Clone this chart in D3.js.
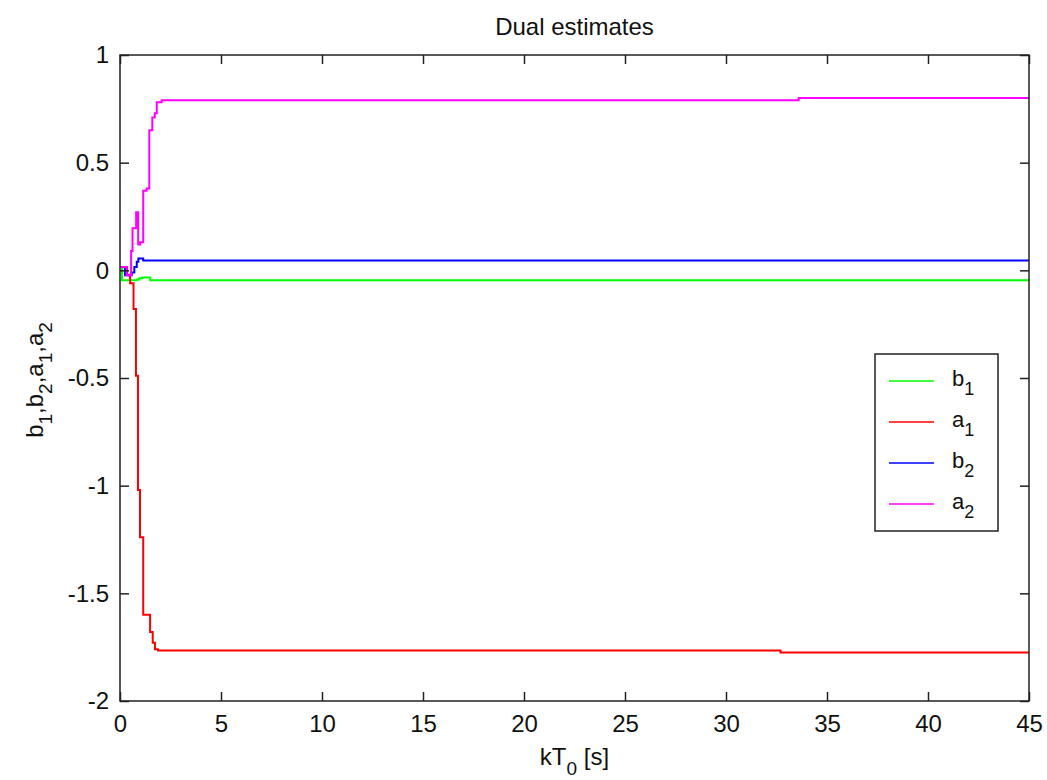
<!DOCTYPE html>
<html>
<head>
<meta charset="utf-8">
<script src="https://cdn.jsdelivr.net/npm/d3@7"></script>
<style>
  body { margin: 0; background: #fff; }
  svg text { font-family: "Liberation Sans", Arial, sans-serif; fill: #111; }
</style>
</head>
<body>
<div class="chartDiv"></div>
<script>
"use strict";

// Data: [time in s, estimate], drawn as steps
var b1Pts = [[0, 0.015], [0.1, -0.046], [0.83, -0.042], [0.95, -0.037], [1.1, -0.033], [1.5, -0.046], [45, -0.046]];
var a1Pts = [[0, 0.015], [0.35, -0.02], [0.5, -0.06], [0.67, -0.18], [0.79, -0.49], [0.89, -1.02], [0.99, -1.24],
             [1.15, -1.60], [1.49, -1.68], [1.62, -1.73], [1.73, -1.76], [1.88, -1.765], [32.7, -1.775], [45, -1.775]];
var b2Pts = [[0, 0.015], [0.25, -0.023], [0.58, -0.01], [0.71, 0.015], [0.83, 0.04], [0.91, 0.055], [1.15, 0.046], [45, 0.046]];
var a2Pts = [[0, 0.015], [0.33, -0.023], [0.55, 0.09], [0.62, 0.195], [0.8, 0.27], [0.9, 0.12], [1.0, 0.13],
             [1.15, 0.37], [1.32, 0.38], [1.45, 0.65], [1.6, 0.71], [1.72, 0.73], [1.82, 0.78], [2.06, 0.79],
             [33.6, 0.80], [45, 0.80]];

var seriesNames = ["b", "a", "b", "a"];
var seriesSubs = ["1", "1", "2", "2"];
var seriesColors = ["#00ff00", "#ff0000", "#0000ff", "#ff00ff"];
var seriesData = [b1Pts, a1Pts, b2Pts, a2Pts];

var xTicks = [0, 5, 10, 15, 20, 25, 30, 35, 40, 45];
var yTicks = [1, 0.5, 0, -0.5, -1, -1.5, -2];

// Layout
var width = 1047, height = 780;
var margin = { top: 55, right: 18, bottom: 79, left: 120 };
var plotW = width - margin.left - margin.right;
var plotH = height - margin.top - margin.bottom;
var tickLen = 9;
var fontSize = 24;

var svg = d3.select(".chartDiv").append("svg")
    .attr("width", width)
    .attr("height", height);

var g = svg.append("g")
    .attr("transform", "translate(" + margin.left + "," + margin.top + ")");

var x = d3.scaleLinear().domain([0, 45]).range([0, plotW]);
var y = d3.scaleLinear().domain([-2, 1]).range([plotH, 0]);

// Lines
var line = d3.line()
    .x(function(d) { return x(d[0]); })
    .y(function(d) { return y(d[1]); })
    .curve(d3.curveStepAfter);

g.append("g").attr("class", "lines")
    .selectAll("path")
    .data(seriesData).enter()
    .append("path")
    .attr("d", line)
    .attr("fill", "none")
    .attr("stroke", function(d, i) { return seriesColors[i]; })
    .attr("stroke-width", 2);

// Axes (ticks point inward on all four sides)
var fmt = function(d) { return String(d); };

var xAxis = g.append("g")
    .attr("transform", "translate(0," + plotH + ")")
    .call(d3.axisBottom(x).tickValues(xTicks).tickFormat(fmt).tickSizeInner(-tickLen).tickSizeOuter(0).tickPadding(14));
var xTop = g.append("g")
    .call(d3.axisTop(x).tickValues(xTicks).tickFormat("").tickSizeInner(-tickLen).tickSizeOuter(0));
var yAxis = g.append("g")
    .call(d3.axisLeft(y).tickValues(yTicks).tickFormat(fmt).tickSizeInner(-tickLen).tickSizeOuter(0).tickPadding(11));
var yRight = g.append("g")
    .attr("transform", "translate(" + plotW + ",0)")
    .call(d3.axisRight(y).tickValues(yTicks).tickFormat("").tickSizeInner(-tickLen).tickSizeOuter(0));

[xAxis, xTop, yAxis, yRight].forEach(function(a) {
    a.select(".domain").remove();
    a.selectAll(".tick line").attr("stroke", "#222").attr("stroke-width", 1.5);
    a.selectAll("text").attr("font-size", fontSize).attr("fill", "#111")
        .attr("font-family", "'Liberation Sans', Arial, sans-serif");
});

g.append("rect")
    .attr("width", plotW)
    .attr("height", plotH)
    .attr("fill", "none")
    .attr("stroke", "#222")
    .attr("stroke-width", 1.5);

// Title
svg.append("text")
    .attr("x", margin.left + plotW / 2)
    .attr("y", 35)
    .attr("text-anchor", "middle")
    .attr("font-size", 24)
    .text("Dual estimates");

// X label: kT0 [s]
var xl = svg.append("text")
    .attr("x", margin.left + plotW / 2)
    .attr("y", 765)
    .attr("text-anchor", "middle")
    .attr("font-size", fontSize);
xl.append("tspan").text("kT");
xl.append("tspan").attr("font-size", 19).attr("dy", 10).text("0");
xl.append("tspan").attr("dy", -10).text(" [s]");

// Y label: b1,b2,a1,a2
var yl = svg.append("text")
    .attr("transform", "translate(43,380) rotate(-90)")
    .attr("text-anchor", "middle")
    .attr("font-size", fontSize);
var yParts = [["b", "1"], ["b", "2"], ["a", "1"], ["a", "2"]];
yParts.forEach(function(p, i) {
    yl.append("tspan").attr("dy", i === 0 ? 0 : -9).text((i === 0 ? "" : ",") + p[0]);
    yl.append("tspan").attr("font-size", 19).attr("dy", 9).text(p[1]);
});

// Legend
var legend = svg.append("g").attr("class", "legend");
legend.append("rect")
    .attr("x", 875).attr("y", 354)
    .attr("width", 123).attr("height", 177)
    .attr("fill", "#fff")
    .attr("stroke", "#222")
    .attr("stroke-width", 1.5);

var rowY = d3.scalePoint().domain(d3.range(seriesNames.length)).range([381, 504]);

var rows = legend.selectAll(".row")
    .data(seriesNames).enter()
    .append("g")
    .attr("class", "row")
    .attr("transform", function(d, i) { return "translate(0," + rowY(i) + ")"; });

rows.append("line")
    .attr("x1", 889).attr("x2", 934)
    .attr("stroke", function(d, i) { return seriesColors[i]; })
    .attr("stroke-width", 1.5);

var lt = rows.append("text")
    .attr("x", 952)
    .attr("y", 5)
    .attr("font-size", 22);
lt.append("tspan").text(function(d) { return d; });
lt.append("tspan").attr("font-size", 18).attr("dy", 9).text(function(d, i) { return seriesSubs[i]; });
</script>
</body>
</html>
